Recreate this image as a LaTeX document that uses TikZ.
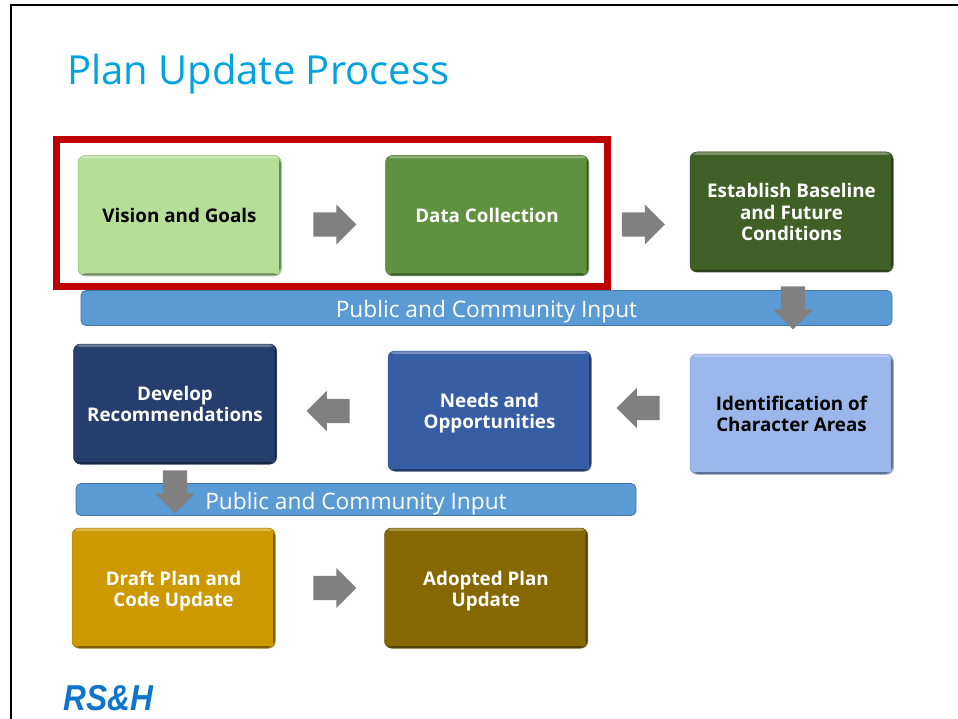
\documentclass[tikz,border=0pt]{standalone}
\usepackage{fontspec}
\setmainfont{Open Sans}
\newfontfamily\logofont{Liberation Sans}
\usepackage{tikz}
\usetikzlibrary{shapes, shapes.arrows, arrows, positioning, shadows}

\definecolor{title_blue}{HTML}{00A3E0}
\definecolor{logo_blue}{HTML}{0F75CB}
\definecolor{frame_red}{HTML}{C00000}
\definecolor{bar_blue}{HTML}{5B9BD5}
\definecolor{arrow_gray}{HTML}{808080}
\definecolor{vision_green}{HTML}{B5DE97}
\definecolor{data_green}{HTML}{5F9140}
\definecolor{base_green}{HTML}{3F6128}
\definecolor{char_blue}{HTML}{9AB6EB}
\definecolor{needs_blue}{HTML}{375DA4}
\definecolor{dev_blue}{HTML}{253E6E}
\definecolor{draft_gold}{HTML}{CC9A00}
\definecolor{adopt_brown}{HTML}{866800}

\newcommand{\lowered}[2]{\raisebox{-#1}[\height][\depth]{#2}}

\tikzset{
  planbox/.style={rectangle, rounded corners=7pt, fill=#1, draw=#1!85!black, line width=.5pt,
    drop shadow={shadow xshift=.8pt, shadow yshift=-.8pt, opacity=.4},
    path picture={
      \fill[#1!70!white] (path picture bounding box.north west) rectangle ([yshift=-3pt]path picture bounding box.north east);
      \fill[#1!60!black] ([xshift=-2pt]path picture bounding box.north east) rectangle (path picture bounding box.south east);
      \fill[#1!60!black] ([yshift=2pt]path picture bounding box.south west) rectangle (path picture bounding box.south east);
    },
    minimum width=203pt, minimum height=120pt, inner sep=0pt, align=center,
    text=white, font=\fontsize{18.8}{21.5}\selectfont\bfseries},
  inputbar/.style={rectangle, rounded corners=5pt, fill=bar_blue, draw=bar_blue!75!black, line width=.8pt,
    inner sep=0pt, text=white, text height=24pt, text depth=5pt, font=\fontsize{22.7}{27}\selectfont},
  blockarrow/.style={single arrow, fill=arrow_gray, inner xsep=0pt, inner ysep=12pt, minimum height=43pt,
    minimum width=40pt, single arrow head extend=8pt},
  downarrow/.style={blockarrow, shape border rotate=270, inner xsep=12pt, inner ysep=0pt},
}

\begin{document}
\begin{tikzpicture}[x=1pt, y=-1pt]
  \useasboundingbox (0,0) rectangle (958,719);
  \coordinate (frame_low) at (11,719);
  \coordinate (frame_corner) at (11,5);
  \coordinate (frame_right) at (958,5);
  \draw[line width=2.8pt] (frame_low) -- (frame_corner) -- (frame_right);
  \node[anchor=west, text=title_blue, font=\fontsize{40}{48}\selectfont, inner sep=0pt] (title) at (67,74) {Plan Update Process};

\node[planbox=vision_green, text=black] (vision) at (179.5,215.5) {Vision and Goals};
\node[planbox=data_green, right=104pt of vision] (data) {Data Collection};
\node[planbox=base_green] (baseline) at (791.5,212) {Establish Baseline\\and Future\\Conditions};
\node[planbox=char_blue, text=black] (character) at (791.5,414) {Identification of\\Character Areas};
\node[planbox=needs_blue] (needs) at (489.5,411) {\lowered{2pt}{Needs and}\\\lowered{2pt}{Opportunities}};
\node[planbox=dev_blue] (develop) at (175,404) {Develop\\Recommendations};
\node[planbox=draft_gold] (draft) at (173.5,588) {\lowered{3pt}{Draft Plan and}\\\lowered{3pt}{Code Update}};
\node[planbox=adopt_brown, right=109pt of draft] (adopted) {\lowered{3pt}{Adopted Plan}\\\lowered{3pt}{Update}};

\node[draw=frame_red, line width=7pt, minimum width=551pt, minimum height=147pt, inner sep=0pt] (focus) at (332,213) {};
\node[inputbar, minimum width=811pt, minimum height=35pt] (input_top) at (486.5,308) {Public and Community Input};
\node[inputbar, minimum width=560pt, minimum height=32pt] (input_low) at (356,499.5) {Public and Community Input};

\node[blockarrow, yshift=-9pt, right=32pt of vision] (vision_arrow) {};
\node[blockarrow, yshift=-9pt, right=33pt of data] (data_arrow) {};
\node[downarrow, xshift=1.5pt, below=14pt of baseline] (baseline_arrow) {};
\node[blockarrow, shape border rotate=180, yshift=6pt, left=30pt of character] (character_arrow) {};
\node[blockarrow, shape border rotate=180, left=38pt of needs] (needs_arrow) {};
\node[downarrow, below=6pt of develop] (develop_arrow) {};
\node[blockarrow, right=38pt of draft] (draft_arrow) {};

\node[anchor=west, inner sep=0pt, text=logo_blue, xscale=.88, font=\logofont\fontsize{36}{40}\selectfont\bfseries\itshape] (logo) at (63,698) {RS\&H};
\end{tikzpicture}
\end{document}
